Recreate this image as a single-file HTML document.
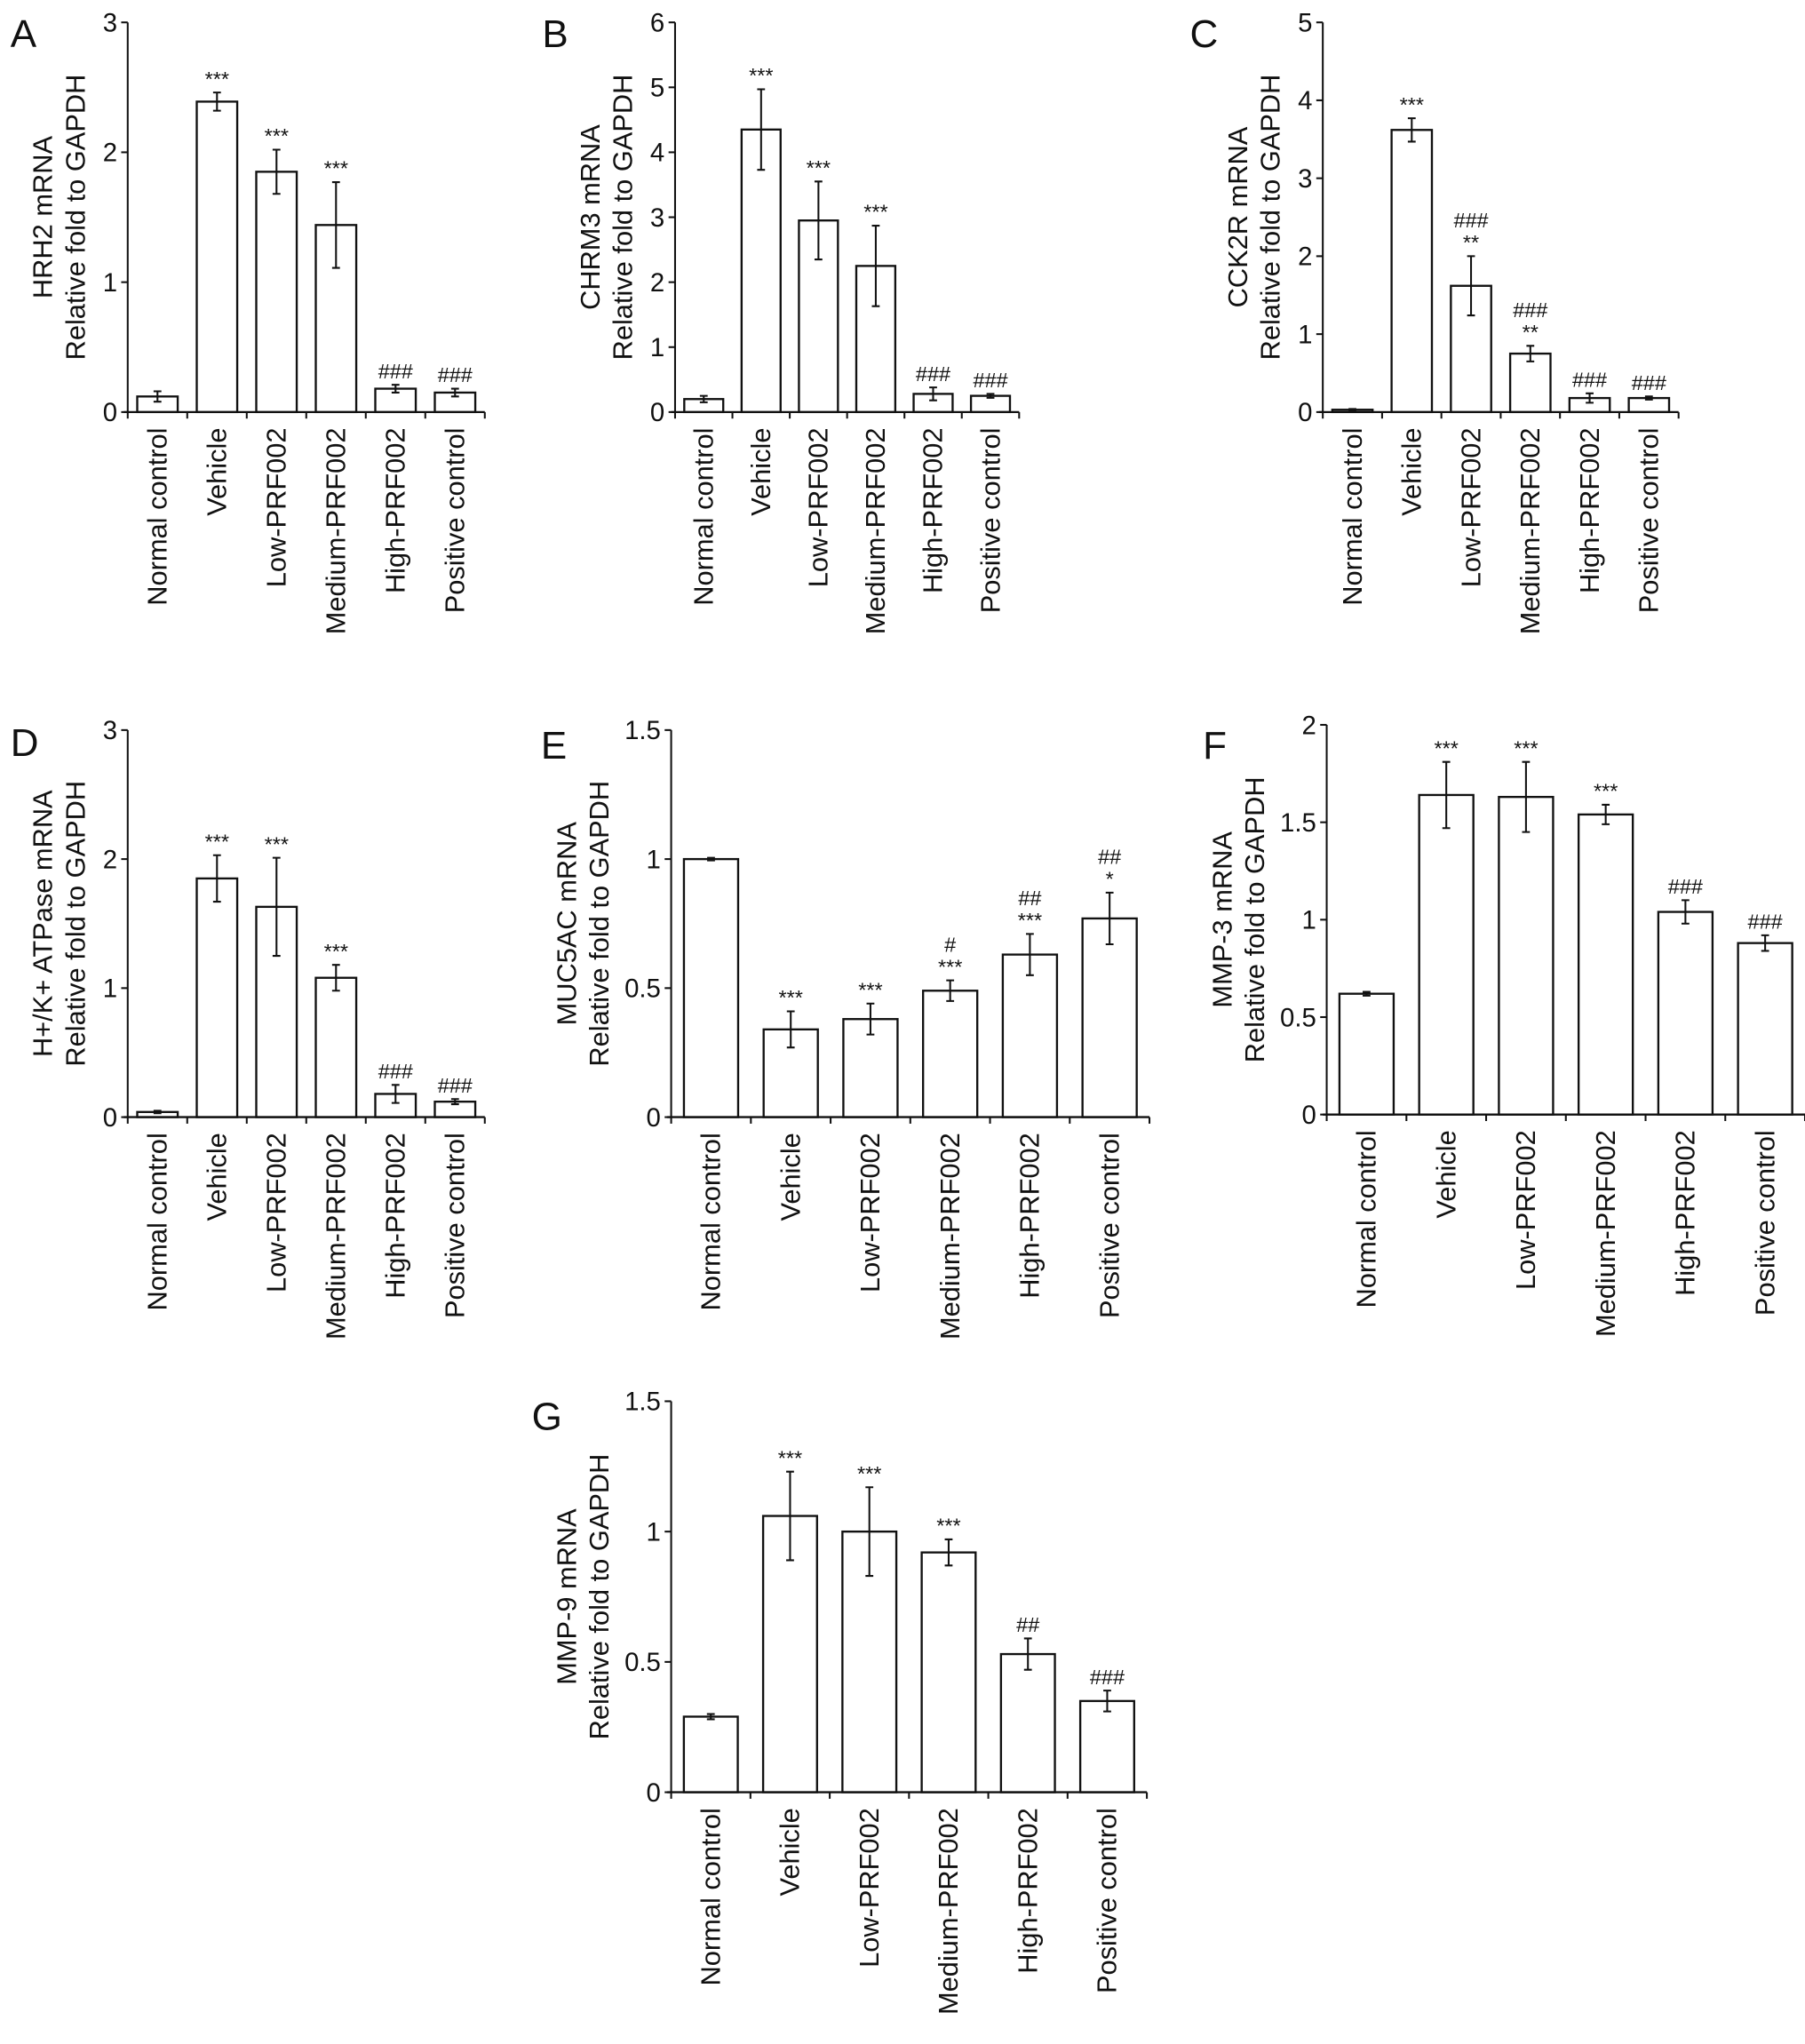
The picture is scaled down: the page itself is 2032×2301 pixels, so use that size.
<!DOCTYPE html>
<html><head><meta charset="utf-8"><style>
html,body{margin:0;padding:0;background:#fff}
svg{display:block}
text{font-family:"Liberation Sans",sans-serif;fill:#111}
</style></head><body>
<svg id="fig" width="2032" height="2301" viewBox="0 0 1385 1568" xmlns="http://www.w3.org/2000/svg"></svg>
<script>
const categories = ["Normal control","Vehicle","Low-PRF002","Medium-PRF002","High-PRF002","Positive control"];
const valuesA = [0.12,2.39,1.85,1.44,0.18,0.15];
const errorsA = [0.04,0.07,0.17,0.33,0.03,0.03];
const annotA = [[],["***"],["***"],["***"],["###"],["###"]];
const valuesB = [0.2,4.35,2.95,2.25,0.28,0.25];
const errorsB = [0.05,0.62,0.6,0.62,0.1,0.03];
const annotB = [[],["***"],["***"],["***"],["###"],["###"]];
const valuesC = [0.03,3.62,1.62,0.75,0.18,0.18];
const errorsC = [0.01,0.15,0.38,0.1,0.06,0.02];
const annotC = [[],["***"],["###","**"],["###","**"],["###"],["###"]];
const valuesD = [0.04,1.85,1.63,1.08,0.18,0.12];
const errorsD = [0.01,0.18,0.38,0.1,0.07,0.02];
const annotD = [[],["***"],["***"],["***"],["###"],["###"]];
const valuesE = [1.0,0.34,0.38,0.49,0.63,0.77];
const errorsE = [0.005,0.07,0.06,0.04,0.08,0.1];
const annotE = [[],["***"],["***"],["#","***"],["##","***"],["##","*"]];
const valuesF = [0.62,1.64,1.63,1.54,1.04,0.88];
const errorsF = [0.01,0.17,0.18,0.05,0.06,0.04];
const annotF = [[],["***"],["***"],["***"],["###"],["###"]];
const valuesG = [0.29,1.06,1.0,0.92,0.53,0.35];
const errorsG = [0.01,0.17,0.17,0.05,0.06,0.04];
const annotG = [[],["***"],["***"],["***"],["##"],["###"]];
const ticksA = ["0","1","2","3"];
const ticksB = ["0","1","2","3","4","5","6"];
const ticksC = ["0","1","2","3","4","5"];
const ticksD = ["0","1","2","3"];
const ticksE = ["0","0.5","1","1.5"];
const ticksF = ["0","0.5","1","1.5","2"];
const ticksG = ["0","0.5","1","1.5"];

const NS="http://www.w3.org/2000/svg";
const svg=document.getElementById('fig');
function mk(tag,attrs,parent){const e=document.createElementNS(NS,tag);for(const k in attrs)e.setAttribute(k,attrs[k]);(parent||svg).appendChild(e);return e;}

const panels=[
 {id:'a',letter:'A',lx:8,ly:36,ax:98,top:17,zero:316,xe:372,ymax:3,ticks:ticksA,vals:valuesA,errs:errorsA,ann:annotA,gene:'HRH2 mRNA',off:0},
 {id:'b',letter:'B',lx:416,ly:36,ax:518,top:17,zero:316,xe:782,ymax:6,ticks:ticksB,vals:valuesB,errs:errorsB,ann:annotB,gene:'CHRM3 mRNA',off:0},
 {id:'c',letter:'C',lx:913,ly:36,ax:1015,top:17,zero:316,xe:1288,ymax:5,ticks:ticksC,vals:valuesC,errs:errorsC,ann:annotC,gene:'CCK2R mRNA',off:0},
 {id:'d',letter:'D',lx:8,ly:580,ax:98,top:560,zero:857,xe:372,ymax:3,ticks:ticksD,vals:valuesD,errs:errorsD,ann:annotD,gene:'H+/K+ ATPase mRNA',off:0},
 {id:'e',letter:'E',lx:415,ly:582,ax:515,top:560,zero:857,xe:882,ymax:1.5,ticks:ticksE,vals:valuesE,errs:errorsE,ann:annotE,gene:'MUC5AC mRNA',off:15},
 {id:'f',letter:'F',lx:923,ly:582,ax:1018,top:556,zero:855,xe:1385,ymax:2,ticks:ticksF,vals:valuesF,errs:errorsF,ann:annotF,gene:'MMP-3 mRNA',off:15},
 {id:'g',letter:'G',lx:408,ly:1097,ax:515,top:1075,zero:1375,xe:880,ymax:1.5,ticks:ticksG,vals:valuesG,errs:errorsG,ann:annotG,gene:'MMP-9 mRNA',off:15}
];

panels.forEach(p=>{
  const g=mk('g',{});
  
  
  const y=v=>p.zero-(v/p.ymax)*(p.zero-p.top);
  const cw=(p.xe-p.ax)/categories.length;
  const xc=i=>p.ax+cw*(i+0.5);
  const bw=cw*0.68;
  const lt=mk('text',{x:p.lx,y:p.ly,'font-size':30},g);lt.textContent=p.letter;
  
  
  const ya=mk('line',{x1:p.ax,y1:p.top,x2:p.ax,y2:p.zero,stroke:'#111','stroke-width':1.4},g);
  
  
  p.ticks.forEach(t=>{
    const ty=y(parseFloat(t));
    mk('line',{x1:p.ax-5,y1:ty,x2:p.ax,y2:ty,stroke:'#111','stroke-width':1.4},g);
    const tt=mk('text',{x:p.ax-8,y:ty+7,'font-size':20,'text-anchor':'end'},g);tt.textContent=t;
    
    
  });
  const cy=(p.top+p.zero)/2;
  const t1=mk('text',{x:0,y:0,'font-size':21,'text-anchor':'middle',transform:`translate(${p.ax-58-p.off},${cy}) rotate(-90)`},g);t1.textContent=p.gene;
  
  
  const t2=mk('text',{x:0,y:0,'font-size':21,'text-anchor':'middle',transform:`translate(${p.ax-33-p.off},${cy}) rotate(-90)`},g);t2.textContent='Relative fold to GAPDH';
  
  
  p.vals.forEach((v,i)=>{
    const r=mk('rect',{x:xc(i)-bw/2,y:y(v),width:bw,height:p.zero-y(v),fill:'#fff',stroke:'#111','stroke-width':1.6},g);
    
    
    const e=p.errs[i];
    const eb=mk('path',{d:`M${xc(i)},${y(v+e)}V${y(v-e)}M${xc(i)-3},${y(v+e)}h6M${xc(i)-3},${y(v-e)}h6`,stroke:'#111','stroke-width':1.4,fill:'none'},g);
    
    
    const a=p.ann[i];
    for(let k=0;k<a.length;k++){
      const at=mk('text',{x:xc(i),y:y(v+e)-5-(a.length-1-k)*17,'font-size':16,'text-anchor':'middle'},g);at.textContent=a[k];
      
      
    }
    const cl=mk('text',{x:0,y:0,'font-size':21,'text-anchor':'end',transform:`translate(${xc(i)+7},${p.zero+12}) rotate(-90)`},g);cl.textContent=categories[i];
    
    
  });
  const xa=mk('line',{x1:p.ax-3,y1:p.zero,x2:p.xe,y2:p.zero,stroke:'#111','stroke-width':1.6},g);
  
  
  for(let i=0;i<=categories.length;i++){
    mk('line',{x1:p.ax+cw*i,y1:p.zero,x2:p.ax+cw*i,y2:p.zero+5,stroke:'#111','stroke-width':1.4},g);
  }
});
</script>
</body></html>
